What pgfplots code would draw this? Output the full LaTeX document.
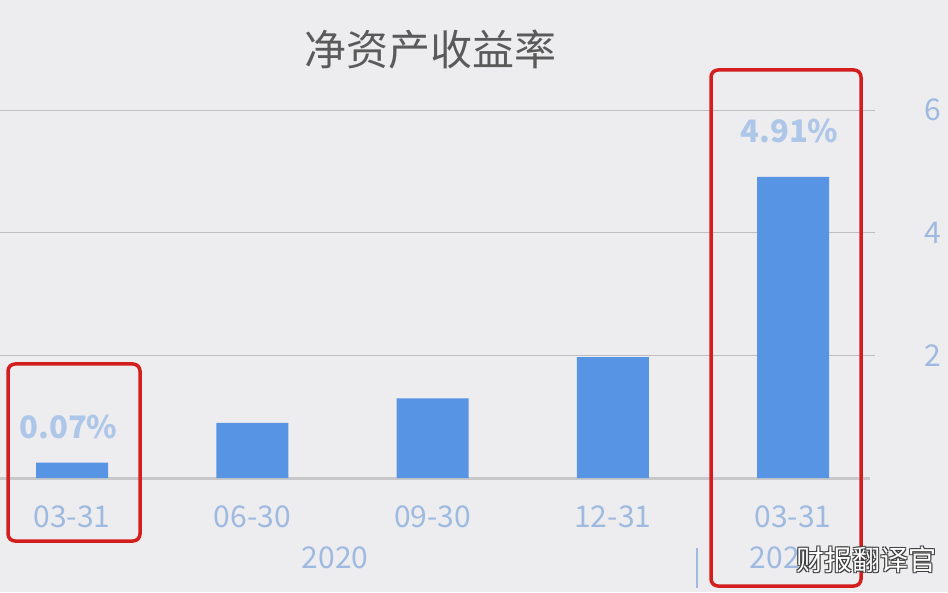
\documentclass[border=0pt]{standalone}
\usepackage{pgfplots}
\pgfplotsset{compat=1.18}
\usepackage{fontspec}
\setmainfont{Noto Sans CJK SC}
\definecolor{bgc}{RGB}{237,237,239}
\definecolor{barblue}{RGB}{88,148,228}
\definecolor{lblue}{RGB}{158,186,224}
\definecolor{dlblue}{RGB}{174,199,232}
\definecolor{gridc}{RGB}{190,190,192}
\definecolor{basec}{RGB}{200,200,202}
\definecolor{titlec}{RGB}{90,90,90}
\definecolor{boxred}{RGB}{212,30,30}

\begin{document}
\begin{tikzpicture}[x=1pt,y=1pt]
  \fill[bgc] (0,0) rectangle (948,592);
  \begin{axis}[
      at={(0pt,114pt)},
      anchor=south west,
      scale only axis,
      width=870pt,
      height=368pt,
      xmin=-0.4, xmax=4.427,
      ymin=0, ymax=6,
      clip=false,
      axis line style={draw=none},
      /pgf/number format/assume math mode=true,
      xtick={0,1,2,3,4},
      xticklabels={03-31,06-30,09-30,12-31,03-31},
      major x tick style={draw=none},
      xticklabel style={anchor=center, yshift=-34pt, text=lblue,
          font=\fontsize{30}{34}\selectfont},
      ytick={2,4,6},
      ytick pos=right,
      yticklabel pos=right,
      tick align=outside,
      major tick length=5pt,
      ytick style={gridc, line width=0.8pt},
      yticklabel style={anchor=center, xshift=58pt, text=lblue,
          font=\fontsize{30}{34}\selectfont},
      ymajorgrids,
      grid style={gridc, line width=0.9pt},
      extra y ticks={0},
      extra y tick labels={},
      extra y tick style={grid style={basec, line width=3pt}, tick style={draw=none}},
    ]
    \addplot[ybar, bar width=72pt, fill=barblue, draw=none] coordinates {
        (0,0.25)
        (1,0.90)
        (2,1.30)
        (3,1.97)
        (4,4.91)};
    % data labels for the two highlighted quarters
    \node[text=dlblue, font=\fontsize{31}{34}\selectfont\bfseries] at (axis cs:-0.02,0.83) {0.07\%};
    \node[text=dlblue, font=\fontsize{31}{34}\selectfont\bfseries] at (axis cs:3.98,5.66) {4.91\%};
  \end{axis}
  % title
  \node[text=titlec, font=\fontsize{42}{48}\selectfont] at (430,542) {净资产收益率};
  % year labels and separator
  \node[text=lblue, font=\fontsize{30}{34}\selectfont] at (335,34) {2020};
  \node[text=lblue, font=\fontsize{30}{34}\selectfont] at (783,34) {2021};
  \draw[lblue, line width=1.2pt] (697,44) -- (697,4);
  % highlight boxes
  \draw[boxred, line width=3.5pt, rounded corners=7pt] (8,228) rectangle (140,51);
  \draw[boxred, line width=3.5pt, rounded corners=7pt] (711,522) rectangle (861,6);
  % watermark: white text with a dark outline
  \foreach \dx/\dy in {-1/-1,1/1,-1/1,1/-1}
    \node[text=black!75, font=\fontsize{28}{32}\selectfont] at (866+\dx,32+\dy) {财报翻译官};
  \node[text=white, font=\fontsize{28}{32}\selectfont] at (866,32) {财报翻译官};
  \pgfresetboundingbox
  \useasboundingbox (0,0) rectangle (948,592);
\end{tikzpicture}
\end{document}
